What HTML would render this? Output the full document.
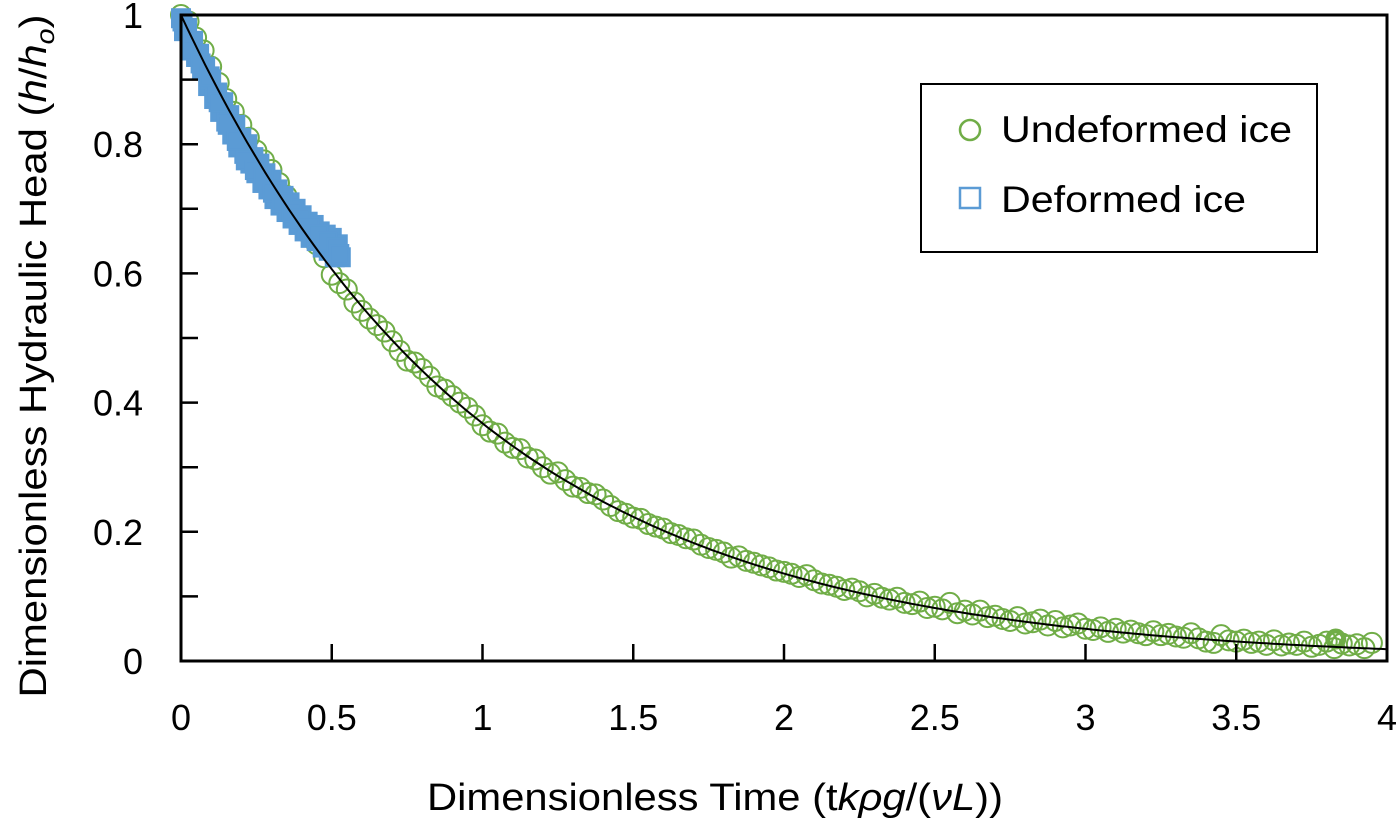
<!DOCTYPE html>
<html><head><meta charset="utf-8"><style>
html,body{margin:0;padding:0;background:#fff;}
svg{display:block;font-family:"Liberation Sans",sans-serif;}
</style></head><body>
<svg id="chart" width="1400" height="823" viewBox="0 0 1400 823" xmlns="http://www.w3.org/2000/svg">
<rect x="0" y="0" width="1400" height="823" fill="#fff"/>
<g id="green"></g>
<g id="blue"></g>
<path id="fit" fill="none" stroke="#000" stroke-width="2"/>
<g id="axes"></g>
<text transform="translate(46,356) rotate(-90)" text-anchor="middle" font-size="38" textLength="683" lengthAdjust="spacingAndGlyphs">Dimensionless Hydraulic Head (<tspan font-style="italic">h</tspan>/<tspan font-style="italic">h</tspan><tspan font-style="italic" font-size="26" dy="8">o</tspan><tspan dy="-8">)</tspan></text>
<text x="715" y="810" text-anchor="middle" font-size="38" textLength="576" lengthAdjust="spacingAndGlyphs">Dimensionless Time (t<tspan font-style="italic">kρg</tspan>/(<tspan font-style="italic">νL</tspan>))</text>
<g>
<rect x="921" y="84" width="396" height="168" fill="#fff" stroke="#000" stroke-width="2"/>
<circle cx="970" cy="130" r="10" fill="none" stroke="#70AD47" stroke-width="2.5"/>
<text x="1001" y="142" font-size="37" textLength="291" lengthAdjust="spacingAndGlyphs">Undeformed ice</text>
<rect x="960" y="188" width="20" height="20" fill="none" stroke="#5B9BD5" stroke-width="2.5"/>
<text x="1001" y="212" font-size="37" textLength="245" lengthAdjust="spacingAndGlyphs">Deformed ice</text>
</g>
</svg>
<script>
const xTickLabels = ["0","0.5","1","1.5","2","2.5","3","3.5","4"];
const yTickLabels = ["0","0.2","0.4","0.6","0.8","1"];
const greenX = [0,0.025,0.05,0.075,0.1,0.125,0.15,0.175,0.2,0.225,0.25,0.275,0.3,0.325,0.35,0.375,0.4,0.425,0.45,0.475,0.5,0.525,0.55,0.575,0.6,0.625,0.65,0.675,0.7,0.725,0.75,0.775,0.8,0.825,0.85,0.875,0.9,0.925,0.95,0.975,1.0,1.025,1.05,1.075,1.1,1.125,1.15,1.175,1.2,1.225,1.25,1.275,1.3,1.325,1.35,1.375,1.4,1.425,1.45,1.475,1.5,1.525,1.55,1.575,1.6,1.625,1.65,1.675,1.7,1.725,1.75,1.775,1.8,1.825,1.85,1.875,1.9,1.925,1.95,1.975,2.0,2.025,2.05,2.075,2.1,2.125,2.15,2.175,2.2,2.225,2.25,2.275,2.3,2.325,2.35,2.375,2.4,2.425,2.45,2.475,2.5,2.525,2.55,2.575,2.6,2.625,2.65,2.675,2.7,2.725,2.75,2.775,2.8,2.825,2.85,2.875,2.9,2.925,2.95,2.975,3.0,3.025,3.05,3.075,3.1,3.125,3.15,3.175,3.2,3.225,3.25,3.275,3.3,3.325,3.35,3.375,3.4,3.425,3.45,3.475,3.5,3.525,3.55,3.575,3.6,3.625,3.65,3.675,3.7,3.725,3.75,3.775,3.8,3.825,3.85,3.875,3.9,3.925,3.95,3.975];
const greenY = [1.0,0.99,0.965,0.945,0.92,0.895,0.87,0.85,0.83,0.81,0.79,0.775,0.76,0.74,0.72,0.70,0.68,0.66,0.645,0.625,0.598,0.585,0.575,0.555,0.542,0.53,0.52,0.51,0.495,0.48,0.465,0.462,0.452,0.44,0.425,0.42,0.41,0.40,0.392,0.38,0.365,0.355,0.352,0.338,0.33,0.328,0.315,0.312,0.30,0.29,0.292,0.28,0.27,0.268,0.26,0.258,0.25,0.24,0.232,0.228,0.222,0.22,0.212,0.208,0.205,0.198,0.195,0.19,0.188,0.18,0.175,0.172,0.168,0.16,0.162,0.155,0.152,0.148,0.145,0.14,0.138,0.135,0.13,0.133,0.125,0.12,0.118,0.115,0.11,0.112,0.108,0.10,0.104,0.098,0.095,0.098,0.09,0.088,0.092,0.082,0.084,0.08,0.09,0.074,0.078,0.072,0.078,0.068,0.07,0.065,0.062,0.068,0.058,0.06,0.064,0.055,0.062,0.052,0.055,0.058,0.05,0.048,0.052,0.045,0.05,0.044,0.047,0.043,0.04,0.046,0.04,0.042,0.038,0.036,0.043,0.035,0.03,0.028,0.04,0.032,0.03,0.033,0.028,0.03,0.025,0.032,0.024,0.027,0.025,0.03,0.022,0.025,0.03,0.02,0.027,0.024,0.026,0.02,0.028];
const highlightX = [3.83];
const highlightY = [0.034];
const blueX = [0,0.01,0.02,0.03,0.04,0.05,0.06,0.07,0.08,0.09,0.1,0.11,0.12,0.13,0.14,0.15,0.16,0.17,0.18,0.19,0.2,0.21,0.22,0.23,0.24,0.25,0.26,0.27,0.28,0.29,0.3,0.31,0.32,0.33,0.34,0.35,0.36,0.37,0.38,0.39,0.4,0.41,0.42,0.43,0.44,0.45,0.46,0.47,0.48,0.49,0.5,0.51,0.52,0.53,0.005,0.035,0.065,0.095,0.125,0.155,0.185,0.215,0.245,0.275,0.305,0.335,0.365,0.395,0.425,0.455,0.485,0.515,0.525];
const blueY = [0.995,0.975,0.98,0.955,0.96,0.935,0.94,0.915,0.92,0.89,0.9,0.87,0.88,0.85,0.865,0.835,0.845,0.815,0.83,0.795,0.81,0.785,0.8,0.77,0.78,0.755,0.77,0.74,0.755,0.73,0.745,0.715,0.73,0.705,0.72,0.695,0.71,0.685,0.7,0.675,0.69,0.665,0.68,0.655,0.675,0.65,0.665,0.64,0.66,0.635,0.655,0.625,0.645,0.625,0.99,0.945,0.925,0.905,0.865,0.83,0.805,0.775,0.76,0.75,0.725,0.71,0.695,0.685,0.67,0.66,0.65,0.64,0.63];
const fitK = [1.0];

const X0=181, X1=1387, Y0=661, Y1=15;
function sx(v){return X0+(v/4)*(X1-X0);}
function sy(v){return Y0-v*(Y0-Y1);}
const NS="http://www.w3.org/2000/svg";
function mk(tag,attrs,parent){const e=document.createElementNS(NS,tag);for(const k in attrs)e.setAttribute(k,attrs[k]);parent.appendChild(e);return e;}

const g=document.getElementById('green');
const ng=Math.min(greenX.length,greenY.length);
for(let i=0;i<ng;i++){
  const c=mk('circle',{cx:sx(greenX[i]),cy:sy(greenY[i]),r:10,fill:'none',stroke:'#70AD47','stroke-width':2},g);
  
  
}
for(let i=0;i<highlightX.length;i++){
  const c=mk('circle',{cx:sx(highlightX[i]),cy:sy(highlightY[i]),r:8,fill:'none',stroke:'#70AD47','stroke-width':5},g);
  
  
}
const b=document.getElementById('blue');
const nb=Math.min(blueX.length,blueY.length);
for(let i=0;i<nb;i++){
  const r=mk('rect',{x:sx(blueX[i])-9,y:sy(blueY[i])-9,width:18,height:18,fill:'#5B9BD5',stroke:'#5B9BD5','stroke-width':2},b);
  
  
}
let d='';
for(let t=0;t<=4.0001;t+=0.02){d+=(d?'L':'M')+sx(t).toFixed(1)+','+sy(Math.exp(-fitK[0]*t)).toFixed(1);}
document.getElementById('fit').setAttribute('d',d);

const ax=document.getElementById('axes');
mk('rect',{x:X0,y:Y1,width:X1-X0,height:Y0-Y1,fill:'none',stroke:'#000','stroke-width':3},ax);
for(let i=0;i<xTickLabels.length;i++){
  const v=parseFloat(xTickLabels[i]);
  if(i>0&&i<xTickLabels.length-1) mk('line',{x1:sx(v),x2:sx(v),y1:Y0,y2:Y0-17,stroke:'#000','stroke-width':2.5},ax);
  const t=mk('text',{x:sx(v),y:730,'text-anchor':'middle','font-size':36},ax);
  t.textContent=xTickLabels[i];
  
  
}
for(let k=1;k<10;k++){
  mk('line',{x1:X0,x2:X0+17,y1:sy(k/10),y2:sy(k/10),stroke:'#000','stroke-width':2.5},ax);
}
for(let i=0;i<yTickLabels.length;i++){
  const v=parseFloat(yTickLabels[i]);
  const t=mk('text',{x:143,y:sy(v)+13,'text-anchor':'end','font-size':36},ax);
  t.textContent=yTickLabels[i];
  
  
}
</script>
</body></html>
